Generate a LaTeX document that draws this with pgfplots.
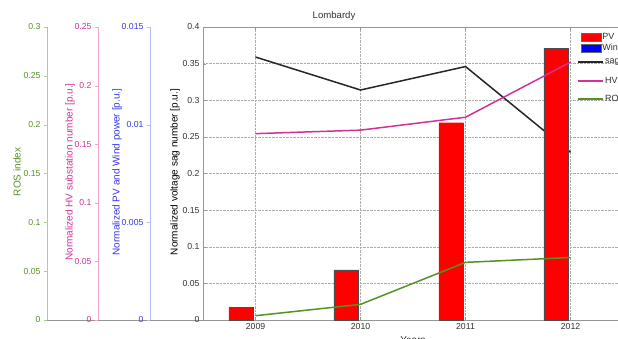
\documentclass[border=0pt]{standalone}
\usepackage{pgfplots}
\pgfplotsset{compat=1.18}
\usepackage{fontspec}
\setmainfont{Liberation Sans}

\definecolor{rosg}{RGB}{85,145,35}
\definecolor{rosaxis}{RGB}{175,205,145}
\definecolor{hvm}{RGB}{210,50,150}
\definecolor{hvaxis}{RGB}{242,165,212}
\definecolor{pvb}{RGB}{55,55,230}
\definecolor{pvaxis}{RGB}{185,185,255}
\definecolor{axgray}{RGB}{150,150,150}
\definecolor{txtgray}{RGB}{50,50,50}

\pgfplotsset{
  common/.style={
    scale only axis, height=293pt, ymin=0,
    scaled y ticks=false, scaled x ticks=false,
    /pgf/number format/assume math mode=true,
    tick label style={font=\fontsize{8.7}{10}\selectfont},
    label style={font=\fontsize{10}{11}\selectfont},
  },
  leftax/.style={
    common, anchor=south west, xmin=0, xmax=1,
    axis y line*=left, axis x line*=bottom, xtick=\empty,
    x axis line style={axgray}, tick align=outside, major tick length=3pt,
  },
  over/.style={
    common, width=420pt, at={(203pt,18pt)}, anchor=south west,
    xmin=2008.5, xmax=2012.5, hide axis,
    legend style={draw=none, fill=none, inner sep=0pt, outer sep=0pt,
      font=\fontsize{9}{10}\selectfont, anchor=west, text=txtgray,
      nodes={inner sep=1.5pt}},
    legend cell align=left,
  },
  lineleg/.style={legend image code/.code={\draw[##1] (0pt,0pt) -- (25pt,0pt);}},
}

\begin{document}
\begin{tikzpicture}[x=1pt,y=1pt]
\useasboundingbox (0,0) rectangle (618,338);
\clip (0,0) rectangle (618,338);

% ROS axis
\begin{axis}[leftax, width=156pt, at={(47pt,18pt)}, ymax=0.3,
  ytick={0,0.05,0.1,0.15,0.2,0.25,0.3},
  yticklabels={0,0.05,0.1,0.15,0.2,0.25,0.3},
  y axis line style={rosaxis}, ytick style={rosaxis},
  yticklabel style={text=rosg}, ylabel={ROS index},
  ylabel style={text=rosg, at={(axis description cs:-0.1923,0.505)}, anchor=center}]
\addplot[draw=none] coordinates {(0,0)};
\end{axis}

% HV axis
\begin{axis}[leftax, width=105pt, at={(98pt,18pt)}, ymax=0.25,
  ytick={0,0.05,0.1,0.15,0.2,0.25},
  yticklabels={0,0.05,0.1,0.15,0.2,0.25},
  y axis line style={hvaxis}, ytick style={hvaxis},
  yticklabel style={text=hvm}, ylabel={Normalized HV substation number [p.u.]},
  ylabel style={text=hvm, at={(axis description cs:-0.2667,0.505)}, anchor=center}]
\addplot[draw=none] coordinates {(0,0)};
\end{axis}

% PV axis
\begin{axis}[leftax, width=53pt, at={(150pt,18pt)}, ymax=0.015,
  ytick={0,0.005,0.01,0.015},
  yticklabels={0,0.005,0.01,0.015},
  y axis line style={pvaxis}, ytick style={pvaxis},
  yticklabel style={text=pvb}, ylabel={Normalized PV and Wind power [p.u.]},
  ylabel style={text=pvb, at={(axis description cs:-0.6226,0.505)}, anchor=center}]
\addplot[draw=none] coordinates {(0,0)};
\end{axis}

% main axis: voltage sags
\begin{axis}[common, width=420pt, at={(203pt,18pt)}, anchor=south west,
  xmin=2008.5, xmax=2012.5, ymax=0.4,
  xtick={2009,2010,2011,2012}, xticklabels={2009,2010,2011,2012},
  ytick={0,0.05,0.1,0.15,0.2,0.25,0.3,0.35,0.4},
  yticklabels={0,0.05,0.1,0.15,0.2,0.25,0.3,0.35,0.4},
  grid=major, grid style={densely dotted, gray!65, line width=0.4pt},
  axis line style={axgray}, tick style={axgray}, tick align=inside, major tick length=3pt,
  tick label style={text=txtgray},
  title={Lombardy}, title style={at={(axis description cs:0.312,1)}, anchor=south, yshift=-3pt, font=\fontsize{9.6}{11}\selectfont, text=txtgray},
  xlabel={Years}, ylabel={Normalized voltage sag number [p.u.]},
  xlabel style={text=txtgray},
  ylabel style={text=black, at={(axis description cs:-0.0667,0.505)}, anchor=center},
  legend style={draw=none, fill=none, inner sep=0pt, outer sep=0pt,
      font=\fontsize{9}{10}\selectfont, anchor=west, text=txtgray, nodes={inner sep=1.5pt},
      at={(axis description cs:0.8905,0.8805)}},
  lineleg]
\addplot[black!85, line width=1.5pt] coordinates {(2009,0.359) (2010,0.314) (2011,0.346) (2012,0.229)};
\addlegendentry{sags}
\end{axis}

% PV bars
\begin{axis}[over, ymax=0.015,
  legend style={at={(axis description cs:0.8988,0.9659)}},
  legend image code/.code={\draw[fill=red, draw=black!60] (0pt,-4pt) rectangle (20pt,4pt);}]
\addplot[ybar, bar width=24.5pt, bar shift=-14.5pt, fill=red, draw=black!70, line width=0.4pt]
  coordinates {(2009,0.00063) (2010,0.00256) (2011,0.0101) (2012,0.0139)};
\addlegendentry{PV}
\end{axis}

% Wind bars (zero)
\begin{axis}[over, ymax=0.015,
  legend style={at={(axis description cs:0.8988,0.9283)}},
  legend image code/.code={\draw[fill=blue, draw=black!60] (0pt,-4pt) rectangle (20pt,4pt);}]
\addplot[draw=none] coordinates {(2009,0) (2010,0) (2011,0) (2012,0)};
\addlegendentry{Wind}
\end{axis}

% HV substations
\begin{axis}[over, ymax=0.25, lineleg,
  legend style={at={(axis description cs:0.8905,0.8157)}}]
\addplot[hvm, line width=1.5pt] coordinates {(2009,0.159) (2010,0.162) (2011,0.173) (2012,0.22)};
\addlegendentry{HVsubstations}
\end{axis}

% ROS index
\begin{axis}[over, ymax=0.3, lineleg,
  legend style={at={(axis description cs:0.8905,0.7543)}}]
\addplot[rosg, line width=1.5pt] coordinates {(2009,0.0044) (2010,0.016) (2011,0.059) (2012,0.064)};
\addlegendentry{ROS index}
\end{axis}

\end{tikzpicture}
\end{document}
